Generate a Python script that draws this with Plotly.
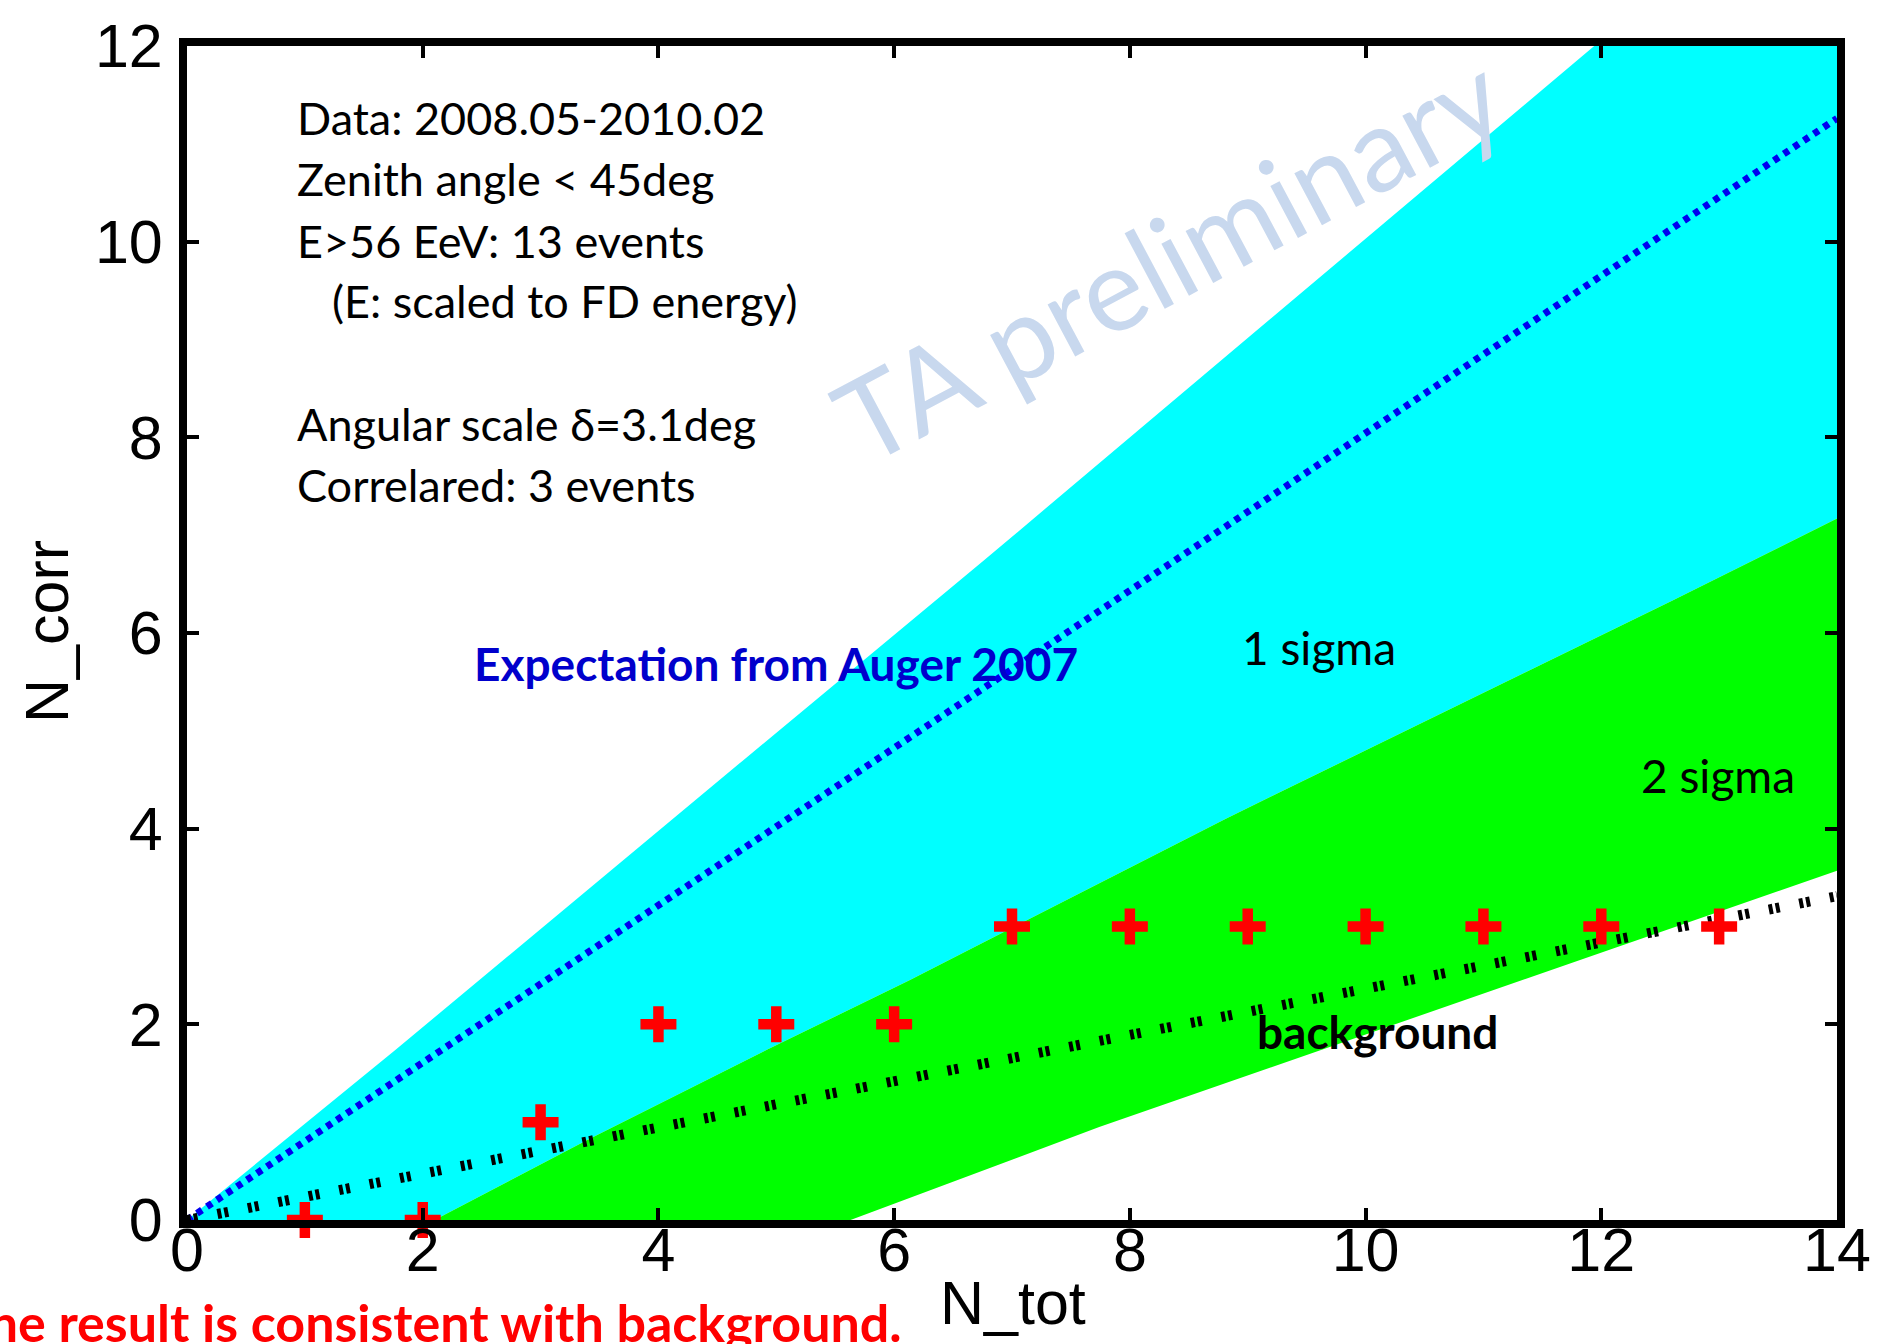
import plotly.graph_objects as go

# ---- canvas / plot-area geometry (pixels) ----
W, H = 1887, 1344
ML, MR, MT, MB = 187, 50, 46, 124
PW, PH = W - ML - MR, H - MT - MB


def paper(xp, yp):
    """Pixel position on the page -> paper coordinates."""
    return (xp - ML) / PW, (H - MB - yp) / PH


# ---- data ----
n_tot = [1, 2, 3, 4, 5, 6, 7, 8, 9, 10, 11, 12, 13]
n_corr = [0, 0, 1, 2, 2, 2, 3, 3, 3, 3, 3, 3, 3]

auger_x = [0, 14]
auger_y = [0, 11.26]

bkg_x = [0, 14]
bkg_y = [0, 3.31]

# upper edge of the 1 sigma band
band_top_x = [0, 1.77, 4.71, 6.75, 11.94, 14]
band_top_y = [0, 1.74, 4.69, 6.73, 12.00, 14.07]
# boundary between the 1 sigma and 2 sigma bands
band_mid_x = [2.1, 3.4, 4.92, 6.13, 8.81, 12.6, 14]
band_mid_y = [0, 0.82, 1.74, 2.45, 4.10, 6.33, 7.17]
# lower edge of the 2 sigma band
band_low_x = [5.63, 7.74, 14]
band_low_y = [0, 0.95, 3.57]

info_lines = [
    "Data: 2008.05-2010.02",
    "Zenith angle &lt; 45deg",
    "E&gt;56 EeV: 13 events",
    "(E: scaled to FD energy)",
    "Angular scale δ=3.1deg",
    "Correlared: 3 events",
]

fig = go.Figure()

# 1 sigma band (cyan)
cyan_x = band_top_x + band_mid_x[::-1] + [0]
cyan_y = band_top_y + band_mid_y[::-1] + [0]
fig.add_trace(go.Scatter(x=cyan_x, y=cyan_y, fill="toself", fillcolor="#00FFFF",
                         line=dict(width=0), mode="lines", hoverinfo="skip"))

# 2 sigma band (green)
green_x = band_mid_x + band_low_x[::-1] + [band_mid_x[0]]
green_y = band_mid_y + band_low_y[::-1] + [band_mid_y[0]]
fig.add_trace(go.Scatter(x=green_x, y=green_y, fill="toself", fillcolor="#00FF00",
                         line=dict(width=0), mode="lines", hoverinfo="skip"))

# expectation lines
fig.add_trace(go.Scatter(x=auger_x, y=auger_y, mode="lines",
                         line=dict(color="#0000F0", width=7, dash="6px,6px")))
fig.add_trace(go.Scatter(x=bkg_x, y=bkg_y, mode="lines",
                         line=dict(color="black", width=10, dash="4px,3px,4px,20px")))

# observed correlated events
fig.add_trace(go.Scatter(x=n_tot, y=n_corr, mode="markers", cliponaxis=False,
                         marker=dict(symbol="cross-thin", size=25.7,
                                     line=dict(color="#FF0000", width=10.5))))

axis_common = dict(
    showline=True, linewidth=8, linecolor="black", mirror="ticks",
    ticks="inside", ticklen=12, tickwidth=4, tickcolor="black",
    tickfont=dict(family="Liberation Sans, Arial", size=61, color="black"),
    showgrid=False, zeroline=False,
)

fig.update_layout(
    width=W, height=H,
    margin=dict(l=ML, r=MR, t=MT, b=MB),
    paper_bgcolor="white", plot_bgcolor="white",
    showlegend=False,
    xaxis=dict(range=[0, 14], tickvals=list(range(0, 15, 2)),
               ticklabelstandoff=-30, **axis_common),
    yaxis=dict(range=[0, 12], tickvals=list(range(0, 13, 2)),
               ticklabelstandoff=4, **axis_common),
)

annotations = []


def label(text, xp, yp, size=46, color="black", bold=False, family="Lato",
          xanchor="left", yanchor="middle", angle=0):
    x, y = paper(xp, yp)
    if bold:
        text = "<b>" + text + "</b>"
    annotations.append(dict(
        text=text, x=x, y=y, xref="paper", yref="paper",
        xanchor=xanchor, yanchor=yanchor, showarrow=False, textangle=angle,
        font=dict(family=family, size=size, color=color),
    ))


# info block
info_x = [295, 295, 295, 330, 295, 295]
info_y = [118, 179, 241, 301, 424, 485]
for txt, xp, yp in zip(info_lines, info_x, info_y):
    label(txt, xp, yp, size=45)

label("TA preliminary", 1168, 256, size=116, color="#C8D8EE",
      xanchor="center", angle=-28)
label("Expectation from Auger 2007", 472, 663, color="#0000CC", bold=True)
label("1 sigma", 1240, 647)
label("2 sigma", 1639, 776)
label("background", 1255, 1031, bold=True)
label("The result is consistent with background.", 904, 1322, size=52,
      color="#FF0000", bold=True, xanchor="right")

# axis titles
label("N_tot", 1013, 1303, size=61, family="Liberation Sans, Arial",
      xanchor="center")
label("N_corr", 47, 632, size=61, family="Liberation Sans, Arial",
      xanchor="center", angle=-90)

fig.update_layout(annotations=annotations)

fig.write_html("out.html")
